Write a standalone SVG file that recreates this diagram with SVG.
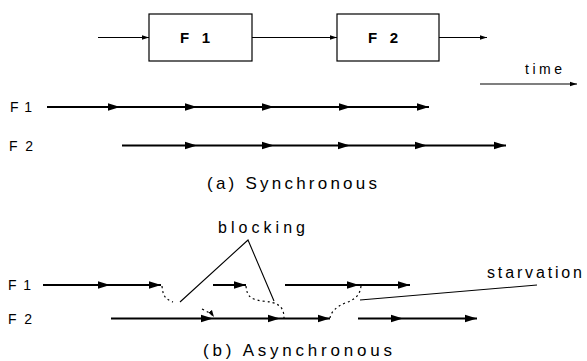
<svg xmlns="http://www.w3.org/2000/svg" width="587" height="361" viewBox="0 0 587 361">
<style>
text{font-family:"Liberation Sans",Arial,sans-serif;fill:#000}
.box{fill:#fff;stroke:#000;stroke-width:1.2}
.lbl{font-size:15px;font-weight:bold}
.thin{fill:none;stroke:#000;stroke-width:1.1}
.tl{fill:none;stroke:#000;stroke-width:2}
.dot{fill:none;stroke:#000;stroke-width:1.2;stroke-dasharray:2 3}
.ptr{fill:none;stroke:#000;stroke-width:1.1}
.t14{font-size:14px}
.t16{font-size:16px}
.t17{font-size:17px}
</style>
<defs>
<marker id="big" markerUnits="userSpaceOnUse" markerWidth="13" markerHeight="9" refX="12" refY="4.5" orient="auto">
<path d="M0,0.8 L12,4.5 L0,8.2 z" fill="#000"/>
</marker>
<marker id="small" markerUnits="userSpaceOnUse" markerWidth="8" markerHeight="6" refX="7" refY="3" orient="auto">
<path d="M0,0.8 L7,3 L0,5.2 z" fill="#000"/>
</marker>
</defs>

<g id="node-F1">
<rect class="box" x="149" y="14" width="103" height="47"/>
<text class="lbl" x="180" y="43" textLength="30" lengthAdjust="spacing">F1</text>
</g>
<g id="node-F2">
<rect class="box" x="337" y="14" width="102" height="47"/>
<text class="lbl" x="368" y="43" textLength="30" lengthAdjust="spacing">F2</text>
</g>

<g id="connectors">
<line class="thin" x1="98" y1="37.5" x2="149" y2="37.5" marker-end="url(#small)"/>
<line class="thin" x1="252" y1="37.5" x2="337" y2="37.5" marker-end="url(#small)"/>
<line class="thin" x1="439" y1="37.5" x2="487" y2="37.5" marker-end="url(#small)"/>
</g>

<g id="time-axis">
<text class="t14" x="525" y="74" textLength="37" lengthAdjust="spacing">time</text>
<line class="thin" x1="480" y1="84" x2="577" y2="84" marker-end="url(#small)"/>
</g>

<g id="sync">
<text class="t14" x="10" y="112" textLength="22" lengthAdjust="spacing">F1</text>
<polyline class="tl" points="47,107 120,107 197,107 274,107 351,107 429,107" marker-mid="url(#big)" marker-end="url(#big)"/>
<text class="t14" x="9" y="150.5" textLength="24" lengthAdjust="spacing">F2</text>
<polyline class="tl" points="122,145.5 197,145.5 274,145.5 350,145.5 427,145.5 506,145.5" marker-mid="url(#big)" marker-end="url(#big)"/>
<text class="t17" x="207" y="189" textLength="170" lengthAdjust="spacing">(a) Synchronous</text>
</g>

<g id="async">
<text class="t14" x="8" y="290" textLength="23" lengthAdjust="spacing">F1</text>
<text class="t14" x="8" y="323.5" textLength="24" lengthAdjust="spacing">F2</text>
<polyline class="tl" points="43,285 110,285 161,285" marker-mid="url(#big)" marker-end="url(#big)"/>
<line class="tl" x1="213" y1="285" x2="246" y2="285" marker-end="url(#big)"/>
<polyline class="tl" points="285,285 359,285 410,285" marker-mid="url(#big)" marker-end="url(#big)"/>
<polyline class="tl" points="111,318.5 213,318.5 280,318.5 330,318.5" marker-mid="url(#big)" marker-end="url(#big)"/>
<polyline class="tl" points="358,318.5 403,318.5 477,318.5" marker-mid="url(#big)" marker-end="url(#big)"/>

<path class="dot" d="M162,286 C163,296 165,299 173,302"/>
<path class="dot" d="M202,309 C208,312 212,314 214,317" marker-end="url(#small)"/>
<path class="dot" d="M246,286 C247,296 250,299 262,301 C276,302 284,305 284,318"/>
<path class="dot" d="M361,286 C360,296 354,300 345,303 C336,307 331,312 330,318"/>

<polyline class="ptr" points="180,302 248,240 274,301"/>
<line class="ptr" x1="360" y1="300" x2="537" y2="285"/>

<text class="t16" x="218" y="233" textLength="87" lengthAdjust="spacing">blocking</text>
<text class="t16" x="487" y="278" textLength="95" lengthAdjust="spacing">starvation</text>
<text class="t17" x="203" y="356" textLength="189" lengthAdjust="spacing">(b) Asynchronous</text>
</g>
</svg>
